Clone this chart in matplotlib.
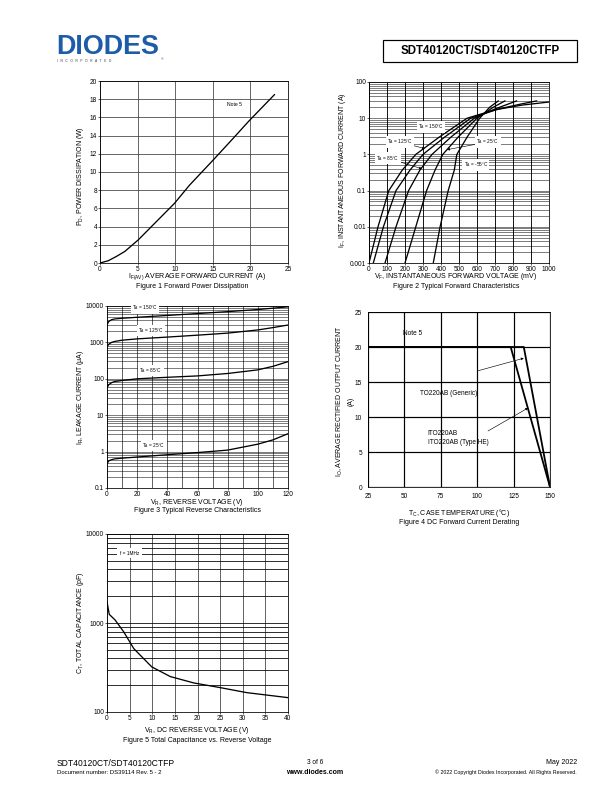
import matplotlib
matplotlib.use("Agg")
import matplotlib.pyplot as plt
from matplotlib.patches import Rectangle
from matplotlib.ticker import LogLocator, NullFormatter

plt.rcParams["font.family"] = ["Liberation Sans", "DejaVu Sans"]
plt.rcParams["mathtext.default"] = "regular"

# ---------------- data ----------------
# Figure 1 Forward Power Dissipation
fig1_current = [0, 1.1, 2.2, 3.3, 5.1, 7.5, 9.9, 11.9, 15.0, 17.6, 19.8, 23.2]
fig1_power = [0, 0.25, 0.73, 1.27, 2.55, 4.55, 6.55, 8.55, 11.27, 13.6, 15.6, 18.5]
fig1_xticks = [0, 5, 10, 15, 20, 25]
fig1_yticks = [0, 2, 4, 6, 8, 10, 12, 14, 16, 18, 20]

# Figure 2 Typical Forward Characteristics (mV, A)
fig2_v_150 = [0, 50, 110, 185, 260, 390, 545, 700, 850, 1000]
fig2_i_150 = [0.001, 0.01, 0.1, 0.37, 1, 3, 10, 17, 23, 28]
fig2_v_125 = [24, 80, 150, 228, 300, 420, 565, 720, 850, 931]
fig2_i_125 = [0.001, 0.01, 0.1, 0.37, 1, 3, 10, 18, 25, 30]
fig2_v_85 = [89, 150, 220, 283, 350, 455, 585, 700, 820]
fig2_i_85 = [0.001, 0.01, 0.1, 0.37, 1, 3, 10, 18, 30]
fig2_v_25 = [200, 260, 320, 367, 410, 495, 600, 690, 755]
fig2_i_25 = [0.001, 0.01, 0.1, 0.37, 1, 3, 10, 20, 30]
fig2_v_m55 = [357, 395, 440, 474, 488, 545, 615, 670, 718]
fig2_i_m55 = [0.001, 0.01, 0.1, 0.37, 1, 3, 10, 20, 30]
fig2_xticks = [0, 100, 200, 300, 400, 500, 600, 700, 800, 900, 1000]
fig2_yticks = [0.001, 0.01, 0.1, 1, 10, 100]
fig2_ylabels = ["0.001", "0.01", "0.1", "1", "10", "100"]

# Figure 3 Typical Reverse Characteristics (V, uA)
fig3_v = [0, 1, 3, 5, 10, 20, 40, 60, 80, 100, 110, 120]
fig3_i_150 = [3000, 3700, 4200, 4400, 4600, 4900, 5500, 6200, 7000, 8000, 8700, 9500]
fig3_i_125 = [750, 880, 1000, 1060, 1150, 1250, 1400, 1580, 1800, 2200, 2550, 3000]
fig3_i_85 = [55, 68, 78, 84, 90, 100, 110, 120, 140, 176, 220, 296]
fig3_i_25 = [0.455, 0.55, 0.6, 0.63, 0.66, 0.71, 0.82, 0.94, 1.1, 1.6, 2.1, 3.1]
fig3_xticks = [0, 20, 40, 60, 80, 100, 120]
fig3_yticks = [0.1, 1, 10, 100, 1000, 10000]
fig3_ylabels = ["0.1", "1", "10", "100", "1000", "10000"]

# Figure 4 DC Forward Current Derating
fig4_temp_generic = [25, 132, 150]
fig4_curr_generic = [20, 20, 0]
fig4_temp_ito = [25, 123, 150]
fig4_curr_ito = [20, 20, 0]
fig4_xticks = [25, 50, 75, 100, 125, 150]
fig4_yticks = [0, 5, 10, 15, 20, 25]

# Figure 5 Total Capacitance vs. Reverse Voltage (V, pF)
fig5_v = [0, 0.5, 1.8, 3.7, 4.8, 5.9, 7.7, 9.9, 14, 19.2, 25, 30.9, 40]
fig5_c = [1730, 1250, 1080, 795, 641, 517, 417, 321, 250, 212, 188, 165, 145]
fig5_xticks = [0, 5, 10, 15, 20, 25, 30, 35, 40]
fig5_yticks = [100, 1000, 10000]
fig5_ylabels = ["100", "1000", "10000"]

# ---------------- layout helpers ----------------
W, H = 612, 792
fig = plt.figure(figsize=(W / 72, H / 72), dpi=72)


def rect(l, t, r, b):
    return [l / W, 1 - b / H, (r - l) / W, (b - t) / H]


def ftext(x, y, s, **kw):
    kw.setdefault("ha", "center")
    kw.setdefault("va", "center")
    fig.text(x / W, 1 - y / H, s, **kw)


TICK = 6.5
LAB = 7.0
CURVE = dict(color="black", lw=1.3)
BOX = dict(boxstyle="square,pad=0.25", fc="white", ec="none")


def style(ax):
    ax.tick_params(which="both", labelsize=TICK, length=2, width=0.6, pad=1,
                   direction="out", colors="black")
    ax.tick_params(which="minor", length=0)
    for s in ax.spines.values():
        s.set_linewidth(0.8)


# ---------------- header ----------------
ftext(56, 47, "DIODES", ha="left", fontsize=27, fontweight="bold",
      color="#1d5ca8")
ftext(57, 61, "I   N   C   O   R   P   O   R   A   T   E   D", ha="left",
      fontsize=3.2, color="#333333")
ftext(161, 59, "\u00ae", ha="left", fontsize=3.5, color="#1d5ca8")
fig.add_artist(Rectangle((383 / W, 1 - 62 / H), (577 - 383) / W, 22 / H,
                         transform=fig.transFigure, fill=False, lw=1.2,
                         ec="black"))
ftext(480, 51.5, "SDT40120CT/SDT40120CTFP", fontsize=11.5, fontweight="bold")

# ---------------- Figure 1 ----------------
ax1 = fig.add_axes(rect(100, 81, 288, 263))
ax1.plot(fig1_current, fig1_power, **CURVE)
ax1.set_xlim(0, 25)
ax1.set_ylim(0, 20)
ax1.set_xticks(fig1_xticks)
ax1.set_yticks(fig1_yticks)
ax1.grid(color="#444444", lw=0.8)
style(ax1)
ax1.text(16.9, 17.2, "Note 5", fontsize=5)
ftext(81, 176, "P$_D$, POWER DISSIPATION (W)", rotation=90, fontsize=LAB)
ftext(197, 277, "I$_{F(AV)}$ AVERAGE FORWARD CURRENT (A)", fontsize=LAB)
ftext(192, 286, "Figure 1 Forward Power Dissipation", fontsize=LAB)

# ---------------- Figure 2 ----------------
ax2 = fig.add_axes(rect(369, 82, 549, 263))
ax2.set_yscale("log")
for v, i in [(fig2_v_150, fig2_i_150), (fig2_v_125, fig2_i_125),
             (fig2_v_85, fig2_i_85), (fig2_v_25, fig2_i_25),
             (fig2_v_m55, fig2_i_m55)]:
    ax2.plot(v, i, **CURVE)
ax2.set_xlim(0, 1000)
ax2.set_ylim(0.001, 100)
ax2.set_xticks(fig2_xticks)
ax2.set_yticks(fig2_yticks)
ax2.set_yticklabels(fig2_ylabels)
ax2.yaxis.set_minor_locator(LogLocator(base=10, subs=range(2, 10)))
ax2.yaxis.set_minor_formatter(NullFormatter())
ax2.grid(which="major", axis="x", color="black", lw=0.9)
ax2.grid(which="both", axis="y", color="black", lw=0.5)
style(ax2)
fs = 4.8
ax2.text(344, 5.7, "T$_A$ = 150°C", fontsize=fs, ha="center", va="center",
         bbox=BOX)
ax2.annotate("T$_A$ = 125°C", xy=(311, 1.44), xytext=(172, 2.2), fontsize=fs,
             ha="center", va="center", bbox=BOX,
             arrowprops=dict(arrowstyle="-|>", lw=0.6, color="black",
                             mutation_scale=5, shrinkA=0, shrinkB=0))
ax2.annotate("T$_A$ = 85°C", xy=(294, 0.40), xytext=(105, 0.79), fontsize=fs,
             ha="center", va="center", bbox=BOX,
             arrowprops=dict(arrowstyle="-|>", lw=0.6, color="black",
                             mutation_scale=5, shrinkA=0, shrinkB=0))
ax2.annotate("T$_A$ = 25°C", xy=(433, 1.35), xytext=(661, 2.2), fontsize=fs,
             ha="center", va="center", bbox=BOX,
             arrowprops=dict(arrowstyle="-|>", lw=0.6, color="black",
                             mutation_scale=5, shrinkA=0, shrinkB=0))
ax2.text(594, 0.51, "T$_A$ = -55°C", fontsize=fs, ha="center", va="center",
         bbox=BOX)
ftext(343, 170, "I$_F$, INSTANTANEOUS FORWARD CURRENT (A)", rotation=90,
      fontsize=LAB)
ftext(456, 277, "V$_F$, INSTANTANEOUS FORWARD VOLTAGE (mV)", fontsize=LAB)
ftext(456, 286, "Figure 2 Typical Forward Characteristics", fontsize=LAB)

# ---------------- Figure 3 ----------------
ax3 = fig.add_axes(rect(107, 306, 288, 488))
ax3.set_yscale("log")
for i in [fig3_i_150, fig3_i_125, fig3_i_85, fig3_i_25]:
    ax3.plot(fig3_v, i, **CURVE)
ax3.set_xlim(0, 120)
ax3.set_ylim(0.1, 10000)
ax3.set_xticks(fig3_xticks)
ax3.set_xticks(range(0, 121, 10), minor=True)
ax3.set_yticks(fig3_yticks)
ax3.set_yticklabels(fig3_ylabels)
ax3.yaxis.set_minor_locator(LogLocator(base=10, subs=range(2, 10)))
ax3.yaxis.set_minor_formatter(NullFormatter())
ax3.grid(which="both", axis="x", color="black", lw=0.6)
ax3.grid(which="both", axis="y", color="black", lw=0.5)
style(ax3)
ax3.text(25.2, 8850, "T$_A$ = 150°C", fontsize=fs, ha="center", va="center",
         bbox=BOX)
ax3.text(29.2, 2160, "T$_A$ = 125°C", fontsize=fs, ha="center", va="center",
         bbox=BOX)
ax3.text(29.2, 168, "T$_A$ = 85°C", fontsize=fs, ha="center", va="center",
         bbox=BOX)
ax3.text(31, 1.47, "T$_A$ = 25°C", fontsize=fs, ha="center", va="center",
         bbox=BOX)
ftext(81, 397, "I$_R$, LEAKAGE CURRENT (μA)", rotation=90, fontsize=LAB)
ftext(197, 502, "V$_R$, REVERSE VOLTAGE (V)", fontsize=LAB)
ftext(197, 511, "Figure 3 Typical Reverse Characteristics", fontsize=LAB)

# ---------------- Figure 4 ----------------
ax4 = fig.add_axes(rect(368, 312, 550, 487))
ax4.plot(fig4_temp_generic, fig4_curr_generic, color="black", lw=1.8)
ax4.plot(fig4_temp_ito, fig4_curr_ito, color="black", lw=1.8)
ax4.set_xlim(25, 150)
ax4.set_ylim(0, 25)
ax4.set_xticks(fig4_xticks)
ax4.set_yticks(fig4_yticks)
ax4.grid(color="black", lw=1.2)
style(ax4)
ax4.tick_params(length=0, pad=6)
ax4.text(49, 21.9, "Note 5", fontsize=6.5, va="center")
ax4.text(60.7, 13.4, "TO220AB (Generic)", fontsize=6.5, va="center")
ax4.annotate("", xy=(132, 18.4), xytext=(100.5, 16.6),
             arrowprops=dict(arrowstyle="-|>", lw=0.6, color="black",
                             mutation_scale=5, shrinkA=0, shrinkB=0))
ax4.text(66, 7.7, "ITO220AB", fontsize=6.5, va="center")
ax4.text(66, 6.3, "ITO220AB (Type HE)", fontsize=6.5, va="center")
ax4.annotate("", xy=(135, 11.3), xytext=(107.4, 8.0),
             arrowprops=dict(arrowstyle="-|>", lw=0.6, color="black",
                             mutation_scale=5, shrinkA=0, shrinkB=0))
ftext(345, 401, "I$_O$, AVERAGE RECTIFIED OUTPUT CURRENT\n(A)", rotation=90,
      fontsize=LAB, linespacing=1.6, multialignment="center")
ftext(459, 513, "T$_C$, CASE TEMPERATURE (°C)", fontsize=LAB)
ftext(459, 523, "Figure 4 DC Forward Current Derating", fontsize=LAB)

# ---------------- Figure 5 ----------------
ax5 = fig.add_axes(rect(107, 534, 288, 712))
ax5.set_yscale("log")
ax5.plot(fig5_v, fig5_c, **CURVE)
ax5.set_xlim(0, 40)
ax5.set_ylim(100, 10000)
ax5.set_xticks(fig5_xticks)
ax5.set_yticks(fig5_yticks)
ax5.set_yticklabels(fig5_ylabels)
ax5.yaxis.set_minor_locator(LogLocator(base=10, subs=range(2, 10)))
ax5.yaxis.set_minor_formatter(NullFormatter())
ax5.grid(which="major", axis="x", color="#555555", lw=0.9)
ax5.grid(which="both", axis="y", color="black", lw=0.8)
style(ax5)
ax5.text(4.9, 6100, "f = 1MHz", fontsize=fs, ha="center", va="center",
         bbox=dict(boxstyle="square,pad=0.6", fc="white", ec="none"))
ftext(81, 623, "C$_T$, TOTAL CAPACITANCE (pF)", rotation=90, fontsize=LAB)
ftext(197, 730, "V$_R$, DC REVERSE VOLTAGE (V)", fontsize=LAB)
ftext(197, 740, "Figure 5 Total Capacitance vs. Reverse Voltage", fontsize=LAB)

# ---------------- footer ----------------
ftext(57, 763, "SDT40120CT/SDT40120CTFP", ha="left", fontsize=8.5)
ftext(57, 772, "Document number: DS39114 Rev. 5 - 2", ha="left", fontsize=6)
ftext(315, 763, "3 of 6", fontsize=6.5)
ftext(315, 772, "www.diodes.com", fontsize=7, fontweight="bold")
ftext(577, 763, "May 2022", ha="right", fontsize=7)
ftext(577, 772, "© 2022 Copyright Diodes Incorporated. All Rights Reserved.",
      ha="right", fontsize=5.2)

fig.savefig("out.png", dpi=72)
